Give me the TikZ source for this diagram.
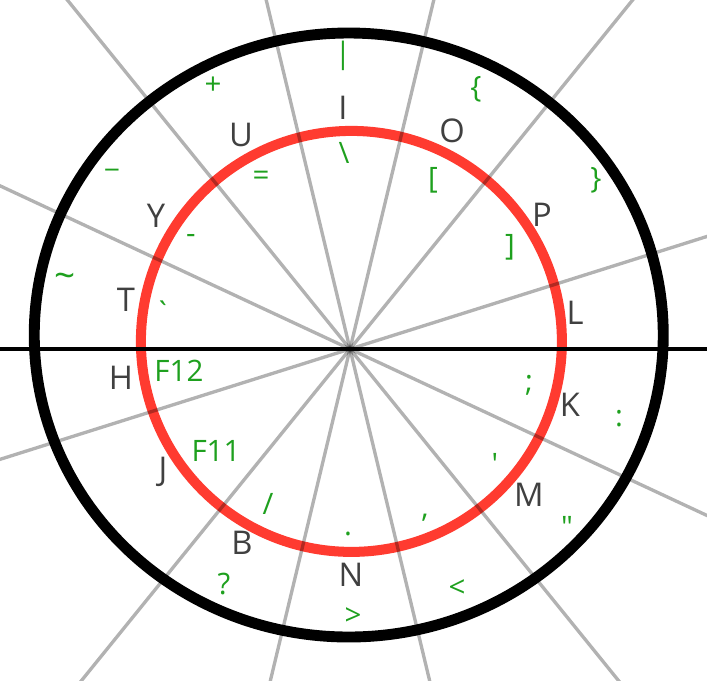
\documentclass[tikz,border=0pt]{standalone}
\usepackage{fontspec}
\setmainfont{Open Sans}
\newfontfamily\signfont{Open Sans}[Ligatures=TeXOff]
\definecolor{keygray}{RGB}{64,64,64}
\definecolor{symgreen}{RGB}{30,160,30}
\definecolor{ringred}{RGB}{255,59,48}

\begin{document}
\begin{tikzpicture}[letter/.style={text=keygray,inner sep=0pt,font=\fontsize{9.3}{11}\selectfont},
	sign/.style={text=symgreen,inner sep=0pt,font=\signfont\fontsize{8.4}{10}\selectfont},
	ray/.style={black,opacity=0.3,line width=0.95pt}]
				\useasboundingbox (-3.5,-3.31) rectangle (3.57,3.49);
				\clip (-3.5,-3.31) rectangle (3.57,3.49);
				\draw[ringred, line width=2.85pt] (0.014,0.076) circle (2.105);
				\draw[ray] (17.5:6) -- (197.5:6);
				\draw[ray] (51:6) -- (231:6);
				\draw[ray] (76.5:6) -- (256.5:6);
				\draw[ray] (103.5:6) -- (283.5:6);
				\draw[ray] (129:6) -- (309:6);
				\draw[ray] (155:6) -- (335:6);
				\draw[line width=3.1pt] (-0.0125,0.14) ellipse (3.145 and 3.02);
				\draw[line width=1pt] (-3.6,0) -- (3.6,0);
				% letters
				\node[letter] (kI) at (-0.07,2.41) {I};
				\node[letter] (kU) at (-1.09,2.14) {U};
				\node[letter] (kO) at (1.02,2.18) {O};
				\node[letter] (kP) at (1.92,1.34) {P};
				\node[letter] (kL) at (2.25,0.36) {L};
				\node[letter] (kK) at (2.20,-0.56) {K};
				\node[letter] (kM) at (1.79,-1.46) {M};
				\node[letter] (kN) at (0.01,-2.26) {N};
				\node[letter] (kB) at (-1.08,-1.94) {B};
				\node[letter] (kJ) at (-1.87,-1.23) {J};
				\node[letter] (kH) at (-2.29,-0.29) {H};
				\node[letter] (kT) at (-2.24,0.49) {T};
				\node[letter] (kY) at (-1.94,1.33) {Y};
				% symbols
				\node[sign] (sBar) at (-0.07,2.935) {|};
				\node[sign] (sBack) at (-0.06,1.96) {\symbol{92}};
				\node[sign] (sPlus) at (-1.37,2.63) {+};
				\node[sign] (sEq) at (-0.89,1.71) {=};
				\node[sign] (sLbrace) at (1.26,2.60) {\{};
				\node[sign] (sLbrack) at (0.83,1.69) {[};
				\node[sign] (sUnder) at (-2.38,1.80) {\_};
				\node[sign] (sMinus) at (-1.59,1.10) {-};
				\node[sign,font=\signfont\fontsize{10.5}{12}\selectfont] (sTilde) at (-2.85,0.68) {\symbol{126}};
				\node[sign] (sGrave) at (-1.87,0.37) {\symbol{96}};
				\node[sign] (sF12) at (-1.71,-0.22) {F12};
				\node[sign] (sF11) at (-1.34,-1.02) {F11};
				\node[sign] (sSlash) at (-0.82,-1.55) {/};
				\node[sign] (sDot) at (-0.02,-1.85) {.};
				\node[sign] (sQuest) at (-1.26,-2.35) {?};
				\node[sign] (sGreater) at (0.03,-2.68) {>};
				\node[sign] (sLess) at (1.07,-2.40) {<};
				\node[sign] (sComma) at (0.75,-1.69) {,};
				\node[sign] (sQuote) at (1.45,-1.15) {\symbol{39}};
				\node[sign] (sDquote) at (2.17,-1.78) {\symbol{34}};
				\node[sign] (sSemi) at (1.79,-0.36) {;};
				\node[sign] (sColon) at (2.69,-0.70) {:};
				\node[sign] (sRbrack) at (1.60,1.02) {]};
				\node[sign] (sRbrace) at (2.46,1.69) {\}};
\end{tikzpicture}
\end{document}
